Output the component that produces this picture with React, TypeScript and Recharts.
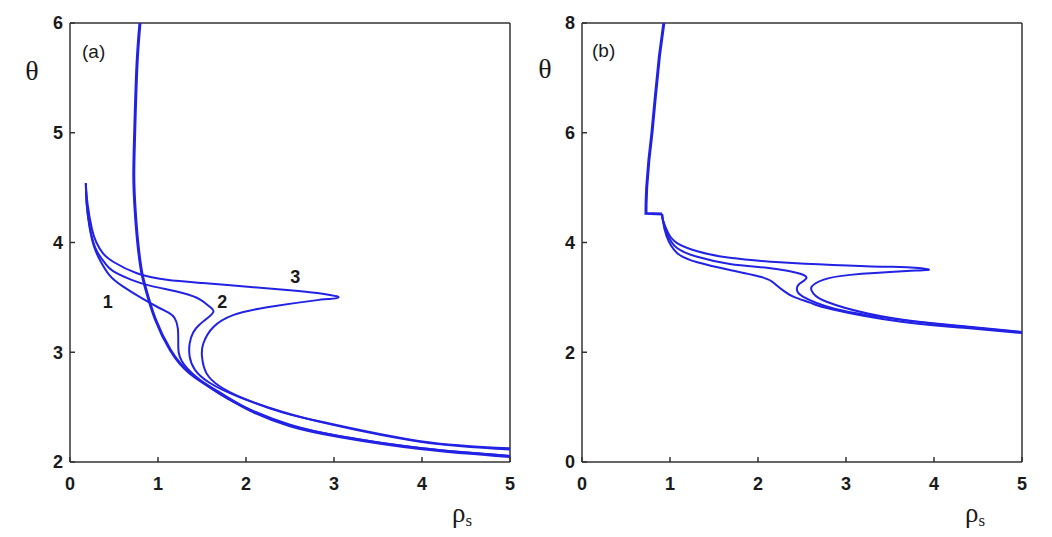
import React from 'react';
import { LineChart, Line, XAxis, YAxis, ReferenceLine, ReferenceDot } from 'recharts';

// ---------- data ----------
const xTicks = [0, 1, 2, 3, 4, 5];
const yTicksA = [2, 3, 4, 5, 6];
const yTicksB = [0, 2, 4, 6, 8];

// panel (a)
const steepA: [number, number][] = [
  [0.795, 6.0], [0.76, 5.6], [0.735, 5.0], [0.725, 4.6], [0.74, 4.3], [0.77, 4.0], [0.81, 3.75],
  [0.86, 3.58], [0.97, 3.3], [1.14, 3.02], [1.36, 2.81], [1.7, 2.63], [2.05, 2.47], [2.5, 2.33],
  [3.07, 2.23], [4.0, 2.12], [5.0, 2.05],
];
const curveA1: [number, number][] = [
  [0.18, 4.54], [0.19, 4.35], [0.22, 4.15], [0.27, 3.97], [0.34, 3.84], [0.45, 3.7], [0.6, 3.6],
  [0.8, 3.5], [1.0, 3.41], [1.12, 3.36], [1.19, 3.31], [1.225, 3.22], [1.23, 3.1], [1.235, 3.0],
  [1.27, 2.92], [1.4, 2.8], [1.7, 2.62], [2.05, 2.475], [2.5, 2.34], [3.07, 2.235], [4.0, 2.125], [5.0, 2.055],
];
const curveA2: [number, number][] = [
  [0.18, 4.54], [0.19, 4.35], [0.23, 4.12], [0.3, 3.93], [0.4, 3.81], [0.49, 3.74], [0.7, 3.66],
  [0.94, 3.6], [1.28, 3.54], [1.48, 3.48], [1.58, 3.42], [1.63, 3.37], [1.56, 3.31], [1.47, 3.25],
  [1.4, 3.18], [1.36, 3.08], [1.36, 2.96], [1.42, 2.84], [1.59, 2.72], [1.93, 2.59], [2.42, 2.455],
  [2.95, 2.345], [3.98, 2.185], [5.0, 2.115],
];
const curveA3: [number, number][] = [
  [0.18, 4.54], [0.2, 4.35], [0.25, 4.12], [0.3, 4.0], [0.375, 3.9], [0.5, 3.82], [0.76, 3.72],
  [1.1, 3.66], [1.51, 3.63], [2.05, 3.595], [2.5, 3.565], [2.81, 3.54], [2.97, 3.52], [3.05, 3.5],
  [2.95, 3.485], [2.81, 3.475], [2.24, 3.41], [1.86, 3.34], [1.63, 3.23], [1.515, 3.08], [1.5, 2.96],
  [1.55, 2.81], [1.7, 2.69], [1.97, 2.58], [2.42, 2.45], [2.95, 2.35], [3.98, 2.19], [5.0, 2.125],
];
const labelsA = [
  { x: 0.43, y: 3.46, text: '1' },
  { x: 1.73, y: 3.46, text: '2' },
  { x: 2.56, y: 3.69, text: '3' },
];

// panel (b)
const stepB: [number, number][] = [
  [0.93, 8.0], [0.88, 7.4], [0.83, 6.6], [0.795, 6.0], [0.76, 5.5], [0.735, 5.0], [0.728, 4.7],
  [0.727, 4.53], [0.91, 4.52],
];
const curveB1: [number, number][] = [
  [0.91, 4.52], [0.92, 4.39], [0.96, 4.12], [1.08, 3.81], [1.31, 3.64], [1.68, 3.5], [2.06, 3.36],
  [2.19, 3.25], [2.3, 3.11], [2.42, 3.0], [2.6, 2.9], [2.85, 2.78], [3.61, 2.56], [4.37, 2.44], [5.0, 2.35],
];
const curveB2: [number, number][] = [
  [0.91, 4.52], [0.92, 4.4], [0.97, 4.15], [1.08, 3.9], [1.31, 3.74], [1.68, 3.61], [2.1, 3.54],
  [2.35, 3.48], [2.48, 3.43], [2.55, 3.35], [2.46, 3.23], [2.445, 3.12], [2.515, 3.01], [2.86, 2.8],
  [3.4, 2.64], [4.0, 2.52], [5.0, 2.36],
];
const curveB3: [number, number][] = [
  [0.91, 4.52], [0.92, 4.41], [0.98, 4.17], [1.08, 3.99], [1.31, 3.84], [1.68, 3.72], [2.25, 3.64],
  [2.85, 3.59], [3.4, 3.56], [3.69, 3.55], [3.94, 3.51], [3.69, 3.48], [3.05, 3.41], [2.74, 3.32],
  [2.61, 3.195], [2.63, 3.07], [2.78, 2.92], [3.235, 2.71], [3.8, 2.56], [4.37, 2.47], [5.0, 2.37],
];

// ---------- styling ----------
const BLUE = '#2222e4';
const AXIS = '#333';
const sans = "'Liberation Sans', Arial, sans-serif";
const serif = "'Liberation Serif', 'Times New Roman', serif";
const tickStyle = { fontSize: 18, fontWeight: 700, fill: '#1a1a1a', fontFamily: sans };

const toPts = (arr: [number, number][]) => arr.map(([x, y]) => ({ x, y }));

const axisCommon = {
  axisLine: { stroke: AXIS, strokeWidth: 1.5 },
  tickLine: { stroke: AXIS, strokeWidth: 1.5 },
  tickSize: -5,
  tick: tickStyle,
  allowDataOverflow: true,
};

function PanelA() {
  return (
    <LineChart width={530} height={537} margin={{ top: 23, right: 20, bottom: 35, left: 0 }}>
      <XAxis type="number" dataKey="x" domain={[0, 5]} ticks={xTicks} height={40} tickMargin={20} {...axisCommon} />
      <YAxis type="number" dataKey="y" domain={[2, 6]} ticks={yTicksA} width={70} tickMargin={12} {...axisCommon} />
      <ReferenceLine y={6} stroke={AXIS} strokeWidth={1.5} />
      <ReferenceLine x={5} stroke={AXIS} strokeWidth={1.5} />
      <Line data={toPts(curveA1)} dataKey="y" type="natural" stroke={BLUE} strokeWidth={2} dot={false} activeDot={false} isAnimationActive={false} />
      <Line data={toPts(curveA2)} dataKey="y" type="natural" stroke={BLUE} strokeWidth={2} dot={false} activeDot={false} isAnimationActive={false} />
      <Line data={toPts(curveA3)} dataKey="y" type="natural" stroke={BLUE} strokeWidth={2} dot={false} activeDot={false} isAnimationActive={false} />
      <Line data={toPts(steepA)} dataKey="y" type="natural" stroke={BLUE} strokeWidth={3} dot={false} activeDot={false} isAnimationActive={false} />
      {labelsA.map((l) => (
        <ReferenceDot
          key={l.text}
          x={l.x}
          y={l.y}
          r={0}
          stroke="none"
          fill="none"
          label={{ value: l.text, position: 'center', fontSize: 18, fontWeight: 700, fill: '#1a1a1a', fontFamily: sans }}
        />
      ))}
    </LineChart>
  );
}

function PanelB() {
  return (
    <LineChart width={532} height={537} margin={{ top: 23, right: 30, bottom: 35, left: 0 }}>
      <XAxis type="number" dataKey="x" domain={[0, 5]} ticks={xTicks} height={40} tickMargin={20} {...axisCommon} />
      <YAxis type="number" dataKey="y" domain={[0, 8]} ticks={yTicksB} width={62} tickMargin={12} {...axisCommon} />
      <ReferenceLine y={8} stroke={AXIS} strokeWidth={1.5} />
      <ReferenceLine x={5} stroke={AXIS} strokeWidth={1.5} />
      <Line data={toPts(stepB)} dataKey="y" type="linear" stroke={BLUE} strokeWidth={3} dot={false} activeDot={false} isAnimationActive={false} />
      <Line data={toPts(curveB1)} dataKey="y" type="natural" stroke={BLUE} strokeWidth={2} dot={false} activeDot={false} isAnimationActive={false} />
      <Line data={toPts(curveB2)} dataKey="y" type="natural" stroke={BLUE} strokeWidth={2} dot={false} activeDot={false} isAnimationActive={false} />
      <Line data={toPts(curveB3)} dataKey="y" type="natural" stroke={BLUE} strokeWidth={2} dot={false} activeDot={false} isAnimationActive={false} />
    </LineChart>
  );
}

export default function App() {
  return (
    <div style={{ position: 'absolute', left: 0, top: 0, width: 1052, height: 537, background: '#fff', overflow: 'hidden' }}>
      <div style={{ position: 'absolute', left: 0, top: 0 }}>
        <PanelA />
      </div>
      <div style={{ position: 'absolute', left: 520, top: 0 }}>
        <PanelB />
      </div>
      <svg width={1052} height={537} style={{ position: 'absolute', left: 0, top: 0, pointerEvents: 'none' }}>
        <text x={32} y={80} fontFamily={serif} fontSize={28} textAnchor="middle" fill="#1a1a1a">θ</text>
        <text x={545} y={78} fontFamily={serif} fontSize={28} textAnchor="middle" fill="#1a1a1a">θ</text>
        <text x={82} y={58} fontFamily={sans} fontSize={19} fill="#1a1a1a">(a)</text>
        <text x={592} y={57} fontFamily={sans} fontSize={19} fill="#1a1a1a">(b)</text>
        <text x={452} y={522} fontFamily={serif} fontSize={27} fill="#1a1a1a">
          ρ<tspan fontSize={17} dy={4}>s</tspan>
        </text>
        <text x={965} y={522} fontFamily={serif} fontSize={27} fill="#1a1a1a">
          ρ<tspan fontSize={17} dy={4}>s</tspan>
        </text>
      </svg>
    </div>
  );
}
